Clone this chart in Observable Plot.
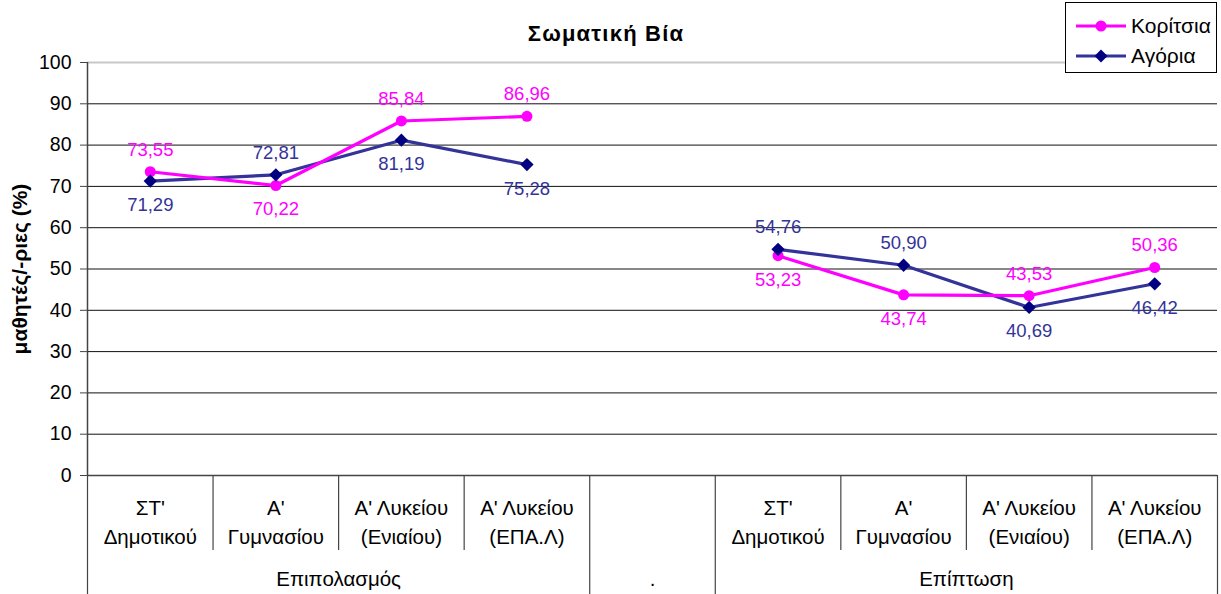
<!DOCTYPE html>
<html><head><meta charset="utf-8">
<script src="https://cdn.jsdelivr.net/npm/d3@7"></script>
<script src="https://cdn.jsdelivr.net/npm/@observablehq/plot@0.6"></script>
<style>
body{margin:0;background:#fff;font-family:"Liberation Sans",Arial,sans-serif;}
#wrap{position:relative;width:1221px;height:594px;}
#title{position:absolute;left:0;width:1212px;top:21px;text-align:center;font-weight:bold;font-size:22px;color:#000;letter-spacing:1.2px;}
#legend{position:absolute;left:1065px;top:2px;width:152px;height:71px;border:1px solid #000;background:#fff;box-sizing:border-box;}
.lrow{position:absolute;left:9px;height:26px;display:flex;align-items:center;font-size:21px;color:#000;}
.lrow svg{margin-right:4px;}
</style></head>
<body>
<div id="wrap">
<div id="chart"></div>
<div id="title"></div>
<div id="legend">
  <div class="lrow" style="top:10px"><svg width="52" height="16"><line x1="1" y1="8" x2="51" y2="8" stroke="#FF00FF" stroke-width="3"/><circle cx="26" cy="8" r="5.5" fill="#FF00FF"/></svg><span id="lg0"></span></div>
  <div class="lrow" style="top:40px"><svg width="52" height="16"><line x1="1" y1="8" x2="51" y2="8" stroke="#333399" stroke-width="3"/><path d="M26 1.5 L32.5 8 L26 14.5 L19.5 8 Z" fill="#000080"/></svg><span id="lg1"></span></div>
</div>
</div>
<script>
const chartTitle = "Σωματική Βία";
const yLabel = "μαθητές/-ριες (%)";
const seriesNames = ["Κορίτσια", "Αγόρια"];
const groups = ["Επιπολασμός", ".", "Επίπτωση"];
const grades = ["ΣΤ'\nΔημοτικού", "Α'\nΓυμνασίου", "Α' Λυκείου\n(Ενιαίου)", "Α' Λυκείου\n(ΕΠΑ.Λ)"];
const girls = [73.55, 70.22, 85.84, 86.96, null, 53.23, 43.74, 43.53, 50.36];
const boys  = [71.29, 72.81, 81.19, 75.28, null, 54.76, 50.90, 40.69, 46.42];
const yTicks = [0, 10, 20, 30, 40, 50, 60, 70, 80, 90, 100];

document.getElementById("title").textContent = chartTitle;
document.getElementById("lg0").textContent = seriesNames[0];
document.getElementById("lg1").textContent = seriesNames[1];

// build slots: group 0 (4 grades), blank slot for ".", group 2 (4 grades)
const slots = [];
grades.forEach(g => slots.push({grade: g, group: 0}));
slots.push({grade: "", group: 1});
grades.forEach(g => slots.push({grade: g, group: 2}));
const data = slots.map((s, i) => ({i, grade: s.grade, group: s.group, girls: girls[i], boys: boys[i]}));

const W = 1221, H = 594, mL = 87, mR = 4, mT = 62, mB = 119;
const below = px => -px * 100 / (H - mT - mB);
const fmt = v => v.toFixed(2).replace(".", ",");

const groupSpans = groups.map((name, g) => {
  const idx = data.filter(d => d.group === g).map(d => d.i);
  return {name, x1: d3.min(idx) - 0.5, x2: d3.max(idx) + 0.5, xc: (d3.min(idx) + d3.max(idx)) / 2};
});
const fullSeps = [-0.5, ...groupSpans.map(s => s.x2)];
const innerSeps = data.filter(d => d.i > 0 && data[d.i - 1].group === d.group).map(d => d.i - 0.5);

const valid = data.filter(d => d.girls != null);
const girlsAbove = valid.filter(d => d.girls >= d.boys);
const girlsBelow = valid.filter(d => d.girls < d.boys);
const boysAbove = valid.filter(d => d.boys > d.girls);
const boysBelow = valid.filter(d => d.boys <= d.girls);

const font = "Liberation Sans, Arial, sans-serif";
const labelSize = 18.5;

const plot = Plot.plot({
  width: W, height: H,
  marginLeft: mL, marginRight: mR, marginTop: mT, marginBottom: mB,
  style: {fontFamily: font, background: "#fff", color: "#000", overflow: "visible"},
  x: {domain: [-0.5, data.length - 0.5], axis: null},
  y: {domain: [0, 100], axis: null},
  marks: [
    Plot.ruleY(yTicks.filter(t => t > 0 && t < 100), {stroke: "#111", strokeWidth: 1}),
    Plot.ruleY([100], {stroke: "#c8c8c8", strokeWidth: 2}),
    Plot.axisY({ticks: yTicks, tickSize: 7, tickPadding: 9, fontSize: 19.5, stroke: "#444", tickFormat: d => d}),
    Plot.ruleX([-0.5], {y1: 0, y2: 100, stroke: "#444", strokeWidth: 1.5}),
    Plot.ruleY([0], {stroke: "#444", strokeWidth: 1.5}),
    Plot.ruleX(fullSeps, {y1: 0, y2: below(mB + 5), stroke: "#444", strokeWidth: 1.2}),
    Plot.ruleX(innerSeps, {y1: 0, y2: below(75), stroke: "#444", strokeWidth: 1.2}),
    Plot.text(data.filter(d => d.grade), {x: "i", text: "grade", frameAnchor: "bottom", dy: 45, lineAnchor: "middle", lineHeight: 1.38, fontSize: 20.5, fill: "#000"}),
    Plot.text(groupSpans, {x: "xc", text: "name", frameAnchor: "bottom", dy: 104, lineAnchor: "middle", fontSize: 20.5, fill: "#000"}),
    Plot.text([yLabel], {text: d => d, frameAnchor: "left", textAnchor: "middle", lineAnchor: "middle", dx: -67, rotate: -90, fontSize: 21, fontWeight: "bold", fill: "#000"}),
    Plot.line(data, {x: "i", y: "boys", stroke: "#333399", strokeWidth: 3.2}),
    Plot.line(data, {x: "i", y: "girls", stroke: "#FF00FF", strokeWidth: 3.2}),
    Plot.dot(valid, {x: "i", y: "girls", r: 5.5, fill: "#FF00FF"}),
    Plot.dot(valid, {x: "i", y: "boys", r: 6, symbol: "diamond2", fill: "#000080"}),
    Plot.text(girlsAbove, {x: "i", y: "girls", text: d => fmt(d.girls), dy: -22, fontSize: labelSize, fill: "#FF00FF"}),
    Plot.text(girlsBelow, {x: "i", y: "girls", text: d => fmt(d.girls), dy: 24, fontSize: labelSize, fill: "#FF00FF"}),
    Plot.text(boysAbove, {x: "i", y: "boys", text: d => fmt(d.boys), dy: -22, fontSize: labelSize, fill: "#333399"}),
    Plot.text(boysBelow, {x: "i", y: "boys", text: d => fmt(d.boys), dy: 24, fontSize: labelSize, fill: "#333399"})
  ]
});
document.getElementById("chart").appendChild(plot);
</script>
</body></html>
